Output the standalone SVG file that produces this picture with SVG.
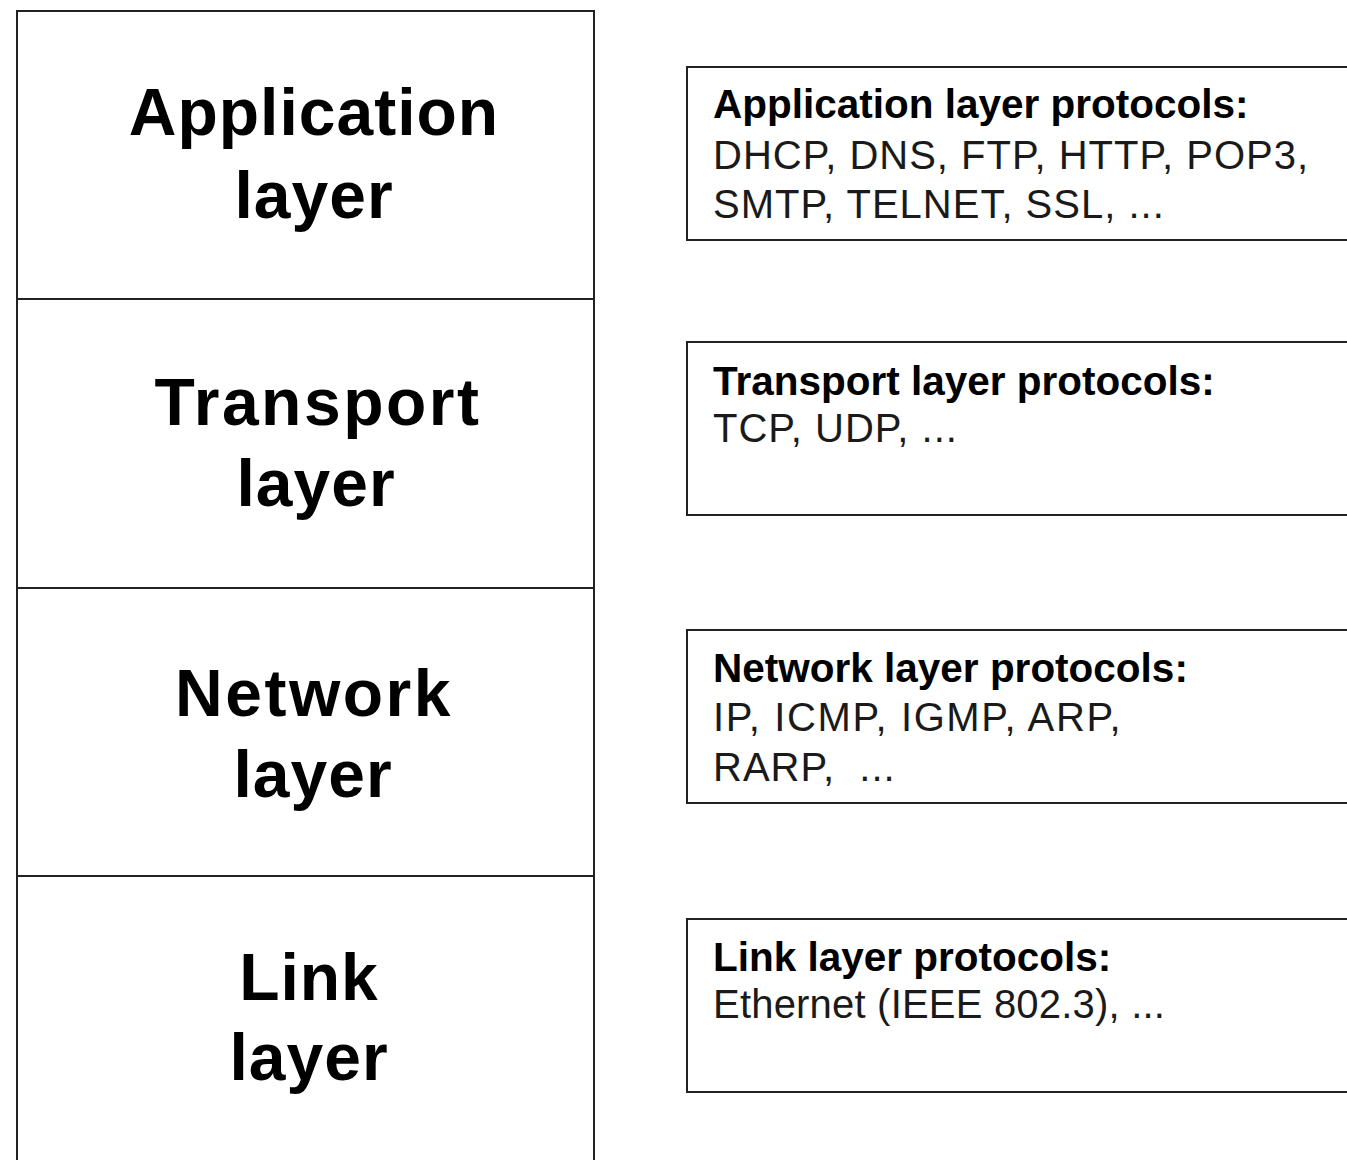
<svg xmlns="http://www.w3.org/2000/svg" width="1347" height="1160" viewBox="0 0 1347 1160">
<style>
.box{fill:#fff;stroke:#222;stroke-width:2}
.big{font-family:"Liberation Sans",Arial,sans-serif;font-weight:bold;font-size:66px;letter-spacing:1px;fill:#000;text-anchor:middle}
.wide{letter-spacing:2.5px}
.hd{font-family:"Liberation Sans",Arial,sans-serif;font-weight:bold;font-size:40.5px;fill:#000}
.tx{font-family:"Liberation Sans",Arial,sans-serif;font-size:40px;letter-spacing:1px;fill:#1a1a1a}
</style>
<rect width="1347" height="1160" fill="#fff"/>
<g id="stack">
<g id="app-layer"><rect class="box" x="17" y="11" width="577" height="288"/><text class="big" x="314" y="135">Application</text><text class="big" x="314" y="218">layer</text></g>
<g id="transport-layer"><rect class="box" x="17" y="299" width="577" height="289"/><text class="big wide" x="318" y="425">Transport</text><text class="big" x="316" y="506">layer</text></g>
<g id="network-layer"><rect class="box" x="17" y="588" width="577" height="288"/><text class="big wide" x="314" y="716">Network</text><text class="big" x="313" y="797">layer</text></g>
<g id="link-layer"><rect class="box" x="17" y="876" width="577" height="300"/><text class="big" x="309" y="1000">Link</text><text class="big" x="309" y="1080">layer</text></g>
</g>
<g id="app-protocols"><rect class="box" x="687" y="67" width="680" height="173"/><text class="hd" x="713" y="118">Application layer protocols:</text><text class="tx" x="713" y="169">DHCP, DNS, FTP, HTTP, POP3,</text><text class="tx" x="713" y="218">SMTP, TELNET, SSL, ...</text></g>
<g id="transport-protocols"><rect class="box" x="687" y="342" width="680" height="173"/><text class="hd" x="713" y="395">Transport layer protocols:</text><text class="tx" x="713" y="442">TCP, UDP, ...</text></g>
<g id="network-protocols"><rect class="box" x="687" y="630" width="680" height="173"/><text class="hd" x="713" y="682">Network layer protocols:</text><text class="tx" x="713" y="731" style="letter-spacing:1.6px">IP, ICMP, IGMP, ARP,</text><text class="tx" x="713" y="781" xml:space="preserve">RARP,  ...</text></g>
<g id="link-protocols"><rect class="box" x="687" y="919" width="680" height="173"/><text class="hd" x="713" y="971">Link layer protocols:</text><text class="tx" x="713" y="1018" style="letter-spacing:0.2px">Ethernet (IEEE 802.3), ...</text></g>
<g id="connectors"/>
</svg>
